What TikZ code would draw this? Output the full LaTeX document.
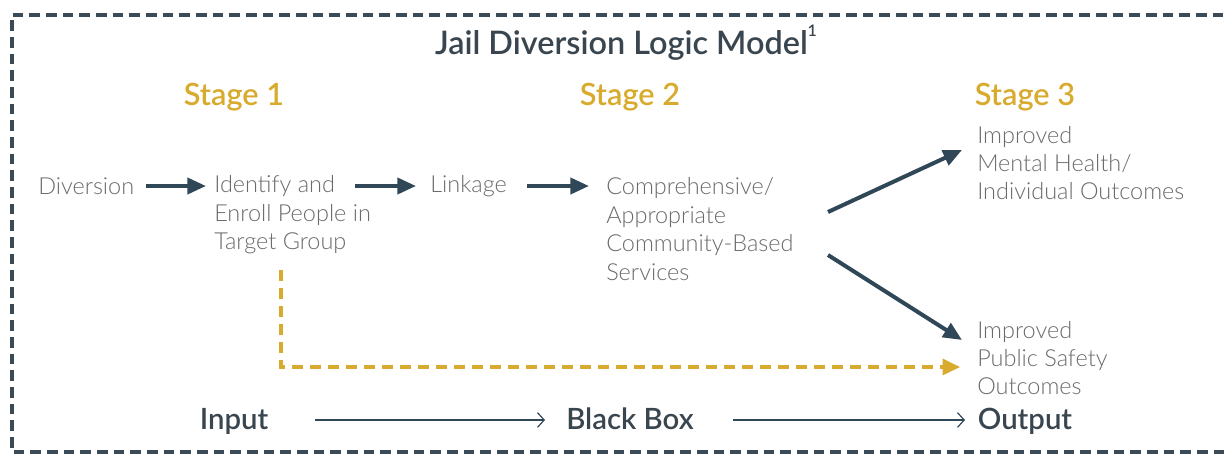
\documentclass[tikz,border=0pt]{standalone}
\usepackage{fontspec}
\setmainfont{Lato}
\newfontfamily\lightf{Lato Light}
\newfontfamily\medf{Lato Semibold}
\usetikzlibrary{arrows.meta}
\definecolor{slate}{HTML}{2F4756}
\definecolor{titlec}{HTML}{39464F}
\definecolor{gold}{HTML}{D8AA2E}
\definecolor{bodyc}{HTML}{6A6A6A}
\definecolor{framec}{HTML}{3A4A56}
\tikzset{
  body/.style={inner sep=0pt, anchor=west, align=left, text=bodyc,
    font=\lightf\fontsize{17.6}{21.3}\selectfont},
  stagec/.style={inner sep=0pt, text=gold, font=\medf\fontsize{23}{26}\selectfont},
  ioc/.style={inner sep=0pt, anchor=base, text=titlec, font=\medf\fontsize{22}{25}\selectfont},
  thick arrow/.style={draw=slate, line width=3pt,
    -{Triangle[length=14pt,width=12pt]}},
  thin arrow/.style={draw=slate, line width=0.9pt,
    -{Straight Barb[length=5pt,width=11pt]}},
}
\begin{document}
\begin{tikzpicture}[x=0.75pt,y=-0.75pt]
\useasboundingbox (0,0) rectangle (1225,455);
\begin{scope}
\clip (0,0) rectangle (1225,455);
\draw[framec, line width=2.4pt, dash pattern=on 8pt off 4.5pt]
  (1240,15) -- (12,15) -- (12,452) -- (1240,452);
\end{scope}

\node[inner sep=0pt, anchor=base, text=titlec, font=\medf\fontsize{24.3}{27}\selectfont]
  (title) at (626,54) {Jail Diversion Logic Model\raisebox{0.55em}{\fontsize{12}{12}\selectfont 1}};

\node[stagec] (s1) at (234,97) {Stage 1};
\node[stagec] (s2) at (630,97) {Stage 2};
\node[stagec] (s3) at (1025,97) {Stage 3};

\node[body] (div) at (38,186) {Diversion};
\node[body] (ident) at (214,215) {Identify and\\Enroll People in\\Target Group};
\node[body] (link) at (430,186) {Linkage};
\node[body] (comp) at (606,229) {Comprehensive/\\Appropriate\\Community-Based\\Services};
\node[body] (mh) at (977,163) {Improved\\Mental Health/\\Individual Outcomes};
\node[body] (ps) at (977,358) {Improved\\Public Safety\\Outcomes};

\node[ioc] (in) at (234,429) {Input};
\node[ioc] (bb) at (630,429) {Black Box};
\node[ioc] (out) at (1025,429) {Output};

\coordinate (a1s) at (146,186); \coordinate (a1e) at (206,186);
\coordinate (a2s) at (355,186); \coordinate (a2e) at (416,186);
\coordinate (a3s) at (527,186); \coordinate (a3e) at (589,186);
\coordinate (dus) at (828,212); \coordinate (due) at (962,150);
\coordinate (dds) at (828,255); \coordinate (dde) at (962,340);

\draw[thick arrow] (a1s) -- (a1e);
\draw[thick arrow] (a2s) -- (a2e);
\draw[thick arrow] (a3s) -- (a3e);
\draw[thick arrow] (dus) -- (due);
\draw[thick arrow] (dds) -- (dde);

\coordinate (g1) at (281,270);
\coordinate (g2) at (281,367);
\coordinate (g3) at (960,367);
\draw[gold, line width=2.4pt, dash pattern=on 8pt off 5.5pt,
  -{Triangle[length=13pt,width=12pt]}] (g1) -- (g2) -- (g3);

\coordinate (t1s) at (315,420); \coordinate (t1e) at (545,420);
\coordinate (t2s) at (733,420); \coordinate (t2e) at (965,420);
\draw[thin arrow] (t1s) -- (t1e);
\draw[thin arrow] (t2s) -- (t2e);
\end{tikzpicture}
\end{document}
